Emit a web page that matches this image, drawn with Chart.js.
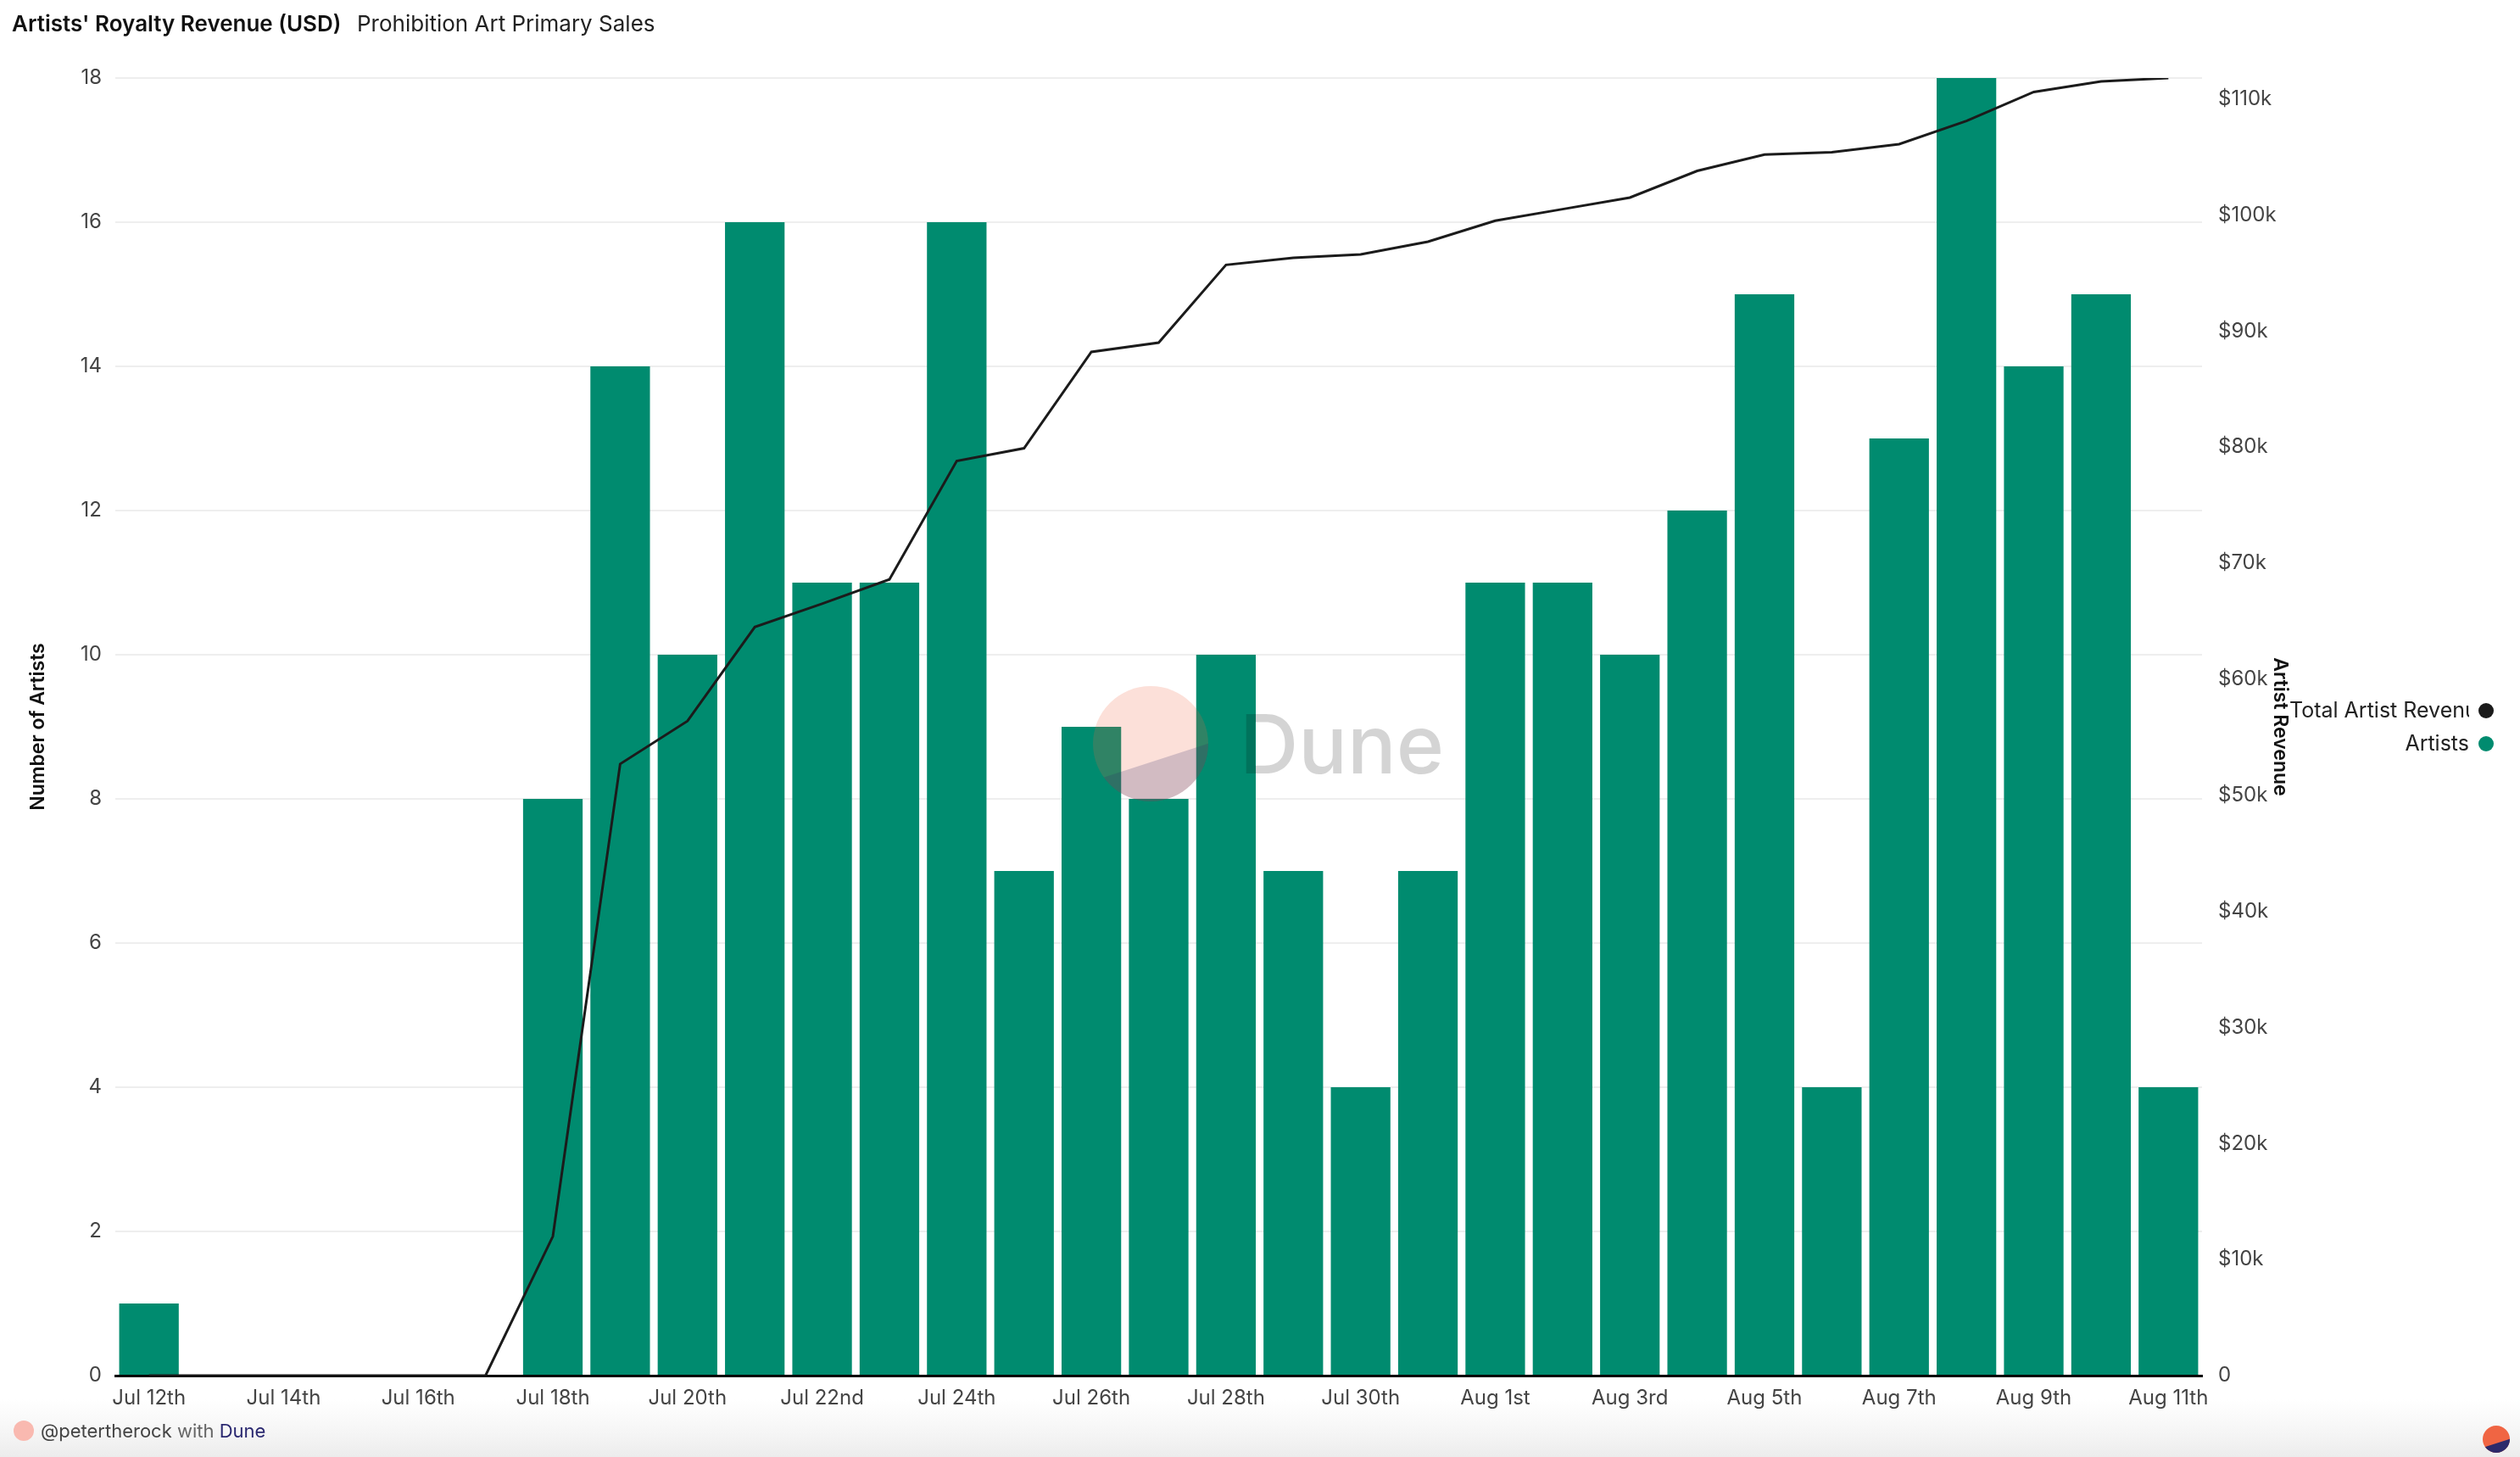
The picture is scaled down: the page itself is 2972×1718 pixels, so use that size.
<!DOCTYPE html>
<html>
<head>
<meta charset="utf-8">
<script src="https://cdn.jsdelivr.net/npm/chart.js@4.4.0/dist/chart.umd.min.js"></script>
<style>
  html, body { margin: 0; padding: 0; background: #fff; }
  #wrap { width: 2972px; height: 1718px; position: relative; }
</style>
</head>
<body>
<div id="wrap"><canvas id="chart"></canvas></div>
<script>
const FONT = "Inter, 'Noto Sans', sans-serif";

// one bar per day
const days = [
  "Jul 12th", "Jul 13th", "Jul 14th", "Jul 15th", "Jul 16th", "Jul 17th", "Jul 18th",
  "Jul 19th", "Jul 20th", "Jul 21st", "Jul 22nd", "Jul 23rd", "Jul 24th", "Jul 25th",
  "Jul 26th", "Jul 27th", "Jul 28th", "Jul 29th", "Jul 30th", "Jul 31st", "Aug 1st",
  "Aug 2nd", "Aug 3rd", "Aug 4th", "Aug 5th", "Aug 6th", "Aug 7th", "Aug 8th",
  "Aug 9th", "Aug 10th", "Aug 11th"
];

// Number of artists (bars, left axis)
const artists = [
  1, 0, 0, 0, 0, 0, 8,
  14, 10, 16, 11, 11, 16, 7,
  9, 8, 10, 7, 4, 7, 11,
  11, 10, 12, 15, 4, 13, 18,
  14, 15, 4
];

// Total artist revenue, cumulative USD (line, right axis)
const revenue = [
  0, 0, 0, 0, 0, 0, 12000,
  52700, 56400, 64500, 66500, 68600, 78800, 79900,
  88200, 89000, 95700, 96300, 96600, 97700, 99500,
  100500, 101500, 103800, 105200, 105400, 106100, 108100,
  110600, 111500, 111800
];

const artistTicks = { min: 0, max: 18, step: 2 };
const revenueTicks = [0, 10000, 20000, 30000, 40000, 50000, 60000, 70000, 80000, 90000, 100000, 110000];
const revenueMax = 111800;

const seriesNames = ["Total Artist Revenue", "Artists"];
const seriesColors = ["#1b1b1b", "#008b6f"];

const decor = {
  id: "decor",
  beforeDraw(chart) {
    const { ctx, width, height } = chart;
    ctx.save();
    ctx.fillStyle = "#fff";
    ctx.fillRect(0, 0, width, height);
    const g = ctx.createLinearGradient(0, 1650, 0, height);
    g.addColorStop(0, "rgba(240,240,240,0)");
    g.addColorStop(1, "rgba(236,236,236,1)");
    ctx.fillStyle = g;
    ctx.fillRect(0, 1650, width, height - 1650);
    ctx.restore();
  },
  afterDraw(chart) {
    const { ctx } = chart;
    ctx.save();

    // watermark
    ctx.save();
    ctx.beginPath();
    ctx.arc(1357, 877, 68, 0, Math.PI * 2);
    ctx.clip();
    ctx.globalAlpha = 0.2;
    ctx.fillStyle = "#f06543";
    ctx.fillRect(1280, 800, 160, 160);
    ctx.fillStyle = "#2c2a6b";
    ctx.beginPath();
    ctx.moveTo(1270, 927);
    ctx.lineTo(1440, 872);
    ctx.lineTo(1440, 960);
    ctx.lineTo(1270, 960);
    ctx.closePath();
    ctx.fill();
    ctx.restore();
    ctx.save();
    ctx.globalAlpha = 0.17;
    ctx.fillStyle = "#000";
    ctx.font = "500 96px " + FONT;
    ctx.textBaseline = "alphabetic";
    ctx.fillText("Dune", 1462, 912);
    ctx.restore();

    // title
    ctx.textBaseline = "middle";
    ctx.textAlign = "left";
    ctx.fillStyle = "#111";
    ctx.font = "600 26px " + FONT;
    ctx.fillText("Artists' Royalty Revenue (USD)", 14, 29);
    ctx.fillStyle = "#222";
    ctx.font = "400 26px " + FONT;
    ctx.fillText("Prohibition Art Primary Sales", 421, 29);

    // legend at the right: text box 2700..2912, long names cut at the right
    const ds = chart.data.datasets;
    const boxL = 2700, boxR = 2912;
    ds.forEach((d, i) => {
      const y = 838 + i * 39;
      ctx.font = "400 25px " + FONT;
      ctx.fillStyle = "#222";
      const w = ctx.measureText(d.label).width;
      ctx.save();
      ctx.beginPath();
      ctx.rect(boxL, y - 25, boxR - boxL, 50);
      ctx.clip();
      if (w > boxR - boxL) {
        ctx.textAlign = "left";
        ctx.fillText(d.label, boxL, y);
      } else {
        ctx.textAlign = "right";
        ctx.fillText(d.label, boxR, y);
      }
      ctx.restore();
      ctx.fillStyle = seriesColors[i];
      ctx.beginPath();
      ctx.arc(2932, y, 9, 0, Math.PI * 2);
      ctx.fill();
    });

    // footer
    ctx.fillStyle = "#f9b9b0";
    ctx.beginPath();
    ctx.arc(28, 1687, 12, 0, Math.PI * 2);
    ctx.fill();
    ctx.textAlign = "left";
    ctx.font = "400 22px " + FONT;
    let x = 48;
    ctx.fillStyle = "#444";
    ctx.fillText("@petertherock", x, 1688);
    x += ctx.measureText("@petertherock ").width;
    ctx.fillStyle = "#666";
    ctx.fillText("with", x, 1688);
    x += ctx.measureText("with ").width;
    ctx.fillStyle = "#2a2870";
    ctx.fillText("Dune", x, 1688);

    // dune logo bottom right
    ctx.save();
    ctx.beginPath();
    ctx.arc(2944, 1697, 16, 0, Math.PI * 2);
    ctx.clip();
    ctx.fillStyle = "#f06543";
    ctx.fillRect(2925, 1678, 40, 40);
    ctx.fillStyle = "#2c2a6b";
    ctx.beginPath();
    ctx.moveTo(2925, 1708);
    ctx.lineTo(2965, 1695);
    ctx.lineTo(2965, 1718);
    ctx.lineTo(2925, 1718);
    ctx.closePath();
    ctx.fill();
    ctx.restore();

    ctx.restore();
  }
};

const ctx = document.getElementById("chart").getContext("2d");
new Chart(ctx, {
  type: "bar",
  data: {
    labels: days,
    datasets: [
      {
        type: "line",
        label: seriesNames[0],
        data: revenue,
        yAxisID: "y1",
        borderColor: seriesColors[0],
        borderWidth: 3,
        pointRadius: 0,
        tension: 0,
        order: 0
      },
      {
        type: "bar",
        label: seriesNames[1],
        data: artists,
        yAxisID: "y",
        backgroundColor: seriesColors[1],
        barPercentage: 1,
        categoryPercentage: 0.885,
        order: 1
      }
    ]
  },
  options: {
    responsive: true,
    maintainAspectRatio: false,
    devicePixelRatio: 1,
    animation: false,
    layout: { padding: { top: 92, left: 0, right: 255, bottom: 0 } },
    plugins: {
      legend: { display: false },
      tooltip: { enabled: false }
    },
    scales: {
      x: {
        grid: { display: false, drawTicks: false },
        border: { display: true, color: "#000", width: 3 },
        ticks: {
          autoSkip: false,
          maxRotation: 0,
          padding: 12,
          color: "#444",
          font: { family: FONT, size: 24 },
          callback: function (v, i) { return i % 2 === 0 ? this.getLabelForValue(v) : ""; }
        },
        afterFit: (s) => { s.height = 96; }
      },
      y: {
        position: "left",
        min: artistTicks.min,
        max: artistTicks.max,
        grid: { color: "#eeeeee", lineWidth: 2, drawTicks: false },
        border: { display: false },
        ticks: {
          stepSize: artistTicks.step,
          maxTicksLimit: 30,
          includeBounds: false,
          padding: 16,
          color: "#444",
          font: { family: FONT, size: 24 }
        },
        title: {
          display: true,
          text: "Number of Artists",
          color: "#111",
          font: { family: FONT, size: 23, weight: "600" },
          padding: { top: 31, bottom: 0 }
        },
        afterFit: (s) => { s.width = 136; }
      },
      y1: {
        position: "right",
        min: 0,
        max: revenueMax,
        grid: { display: false, drawTicks: false },
        border: { display: false },
        afterBuildTicks: (s) => { s.ticks = revenueTicks.map((v) => ({ value: v })); },
        ticks: {
          padding: 19,
          color: "#444",
          font: { family: FONT, size: 24 },
          callback: (v) => (v === 0 ? "0" : "$" + Math.round(v / 1000) + "k")
        },
        title: {
          display: true,
          text: "Artist Revenue",
          color: "#111",
          font: { family: FONT, size: 23, weight: "600" },
          padding: { top: 14, bottom: 0 }
        },
        afterFit: (s) => { s.width = 120; }
      }
    }
  },
  plugins: [decor]
});
</script>
</body>
</html>
